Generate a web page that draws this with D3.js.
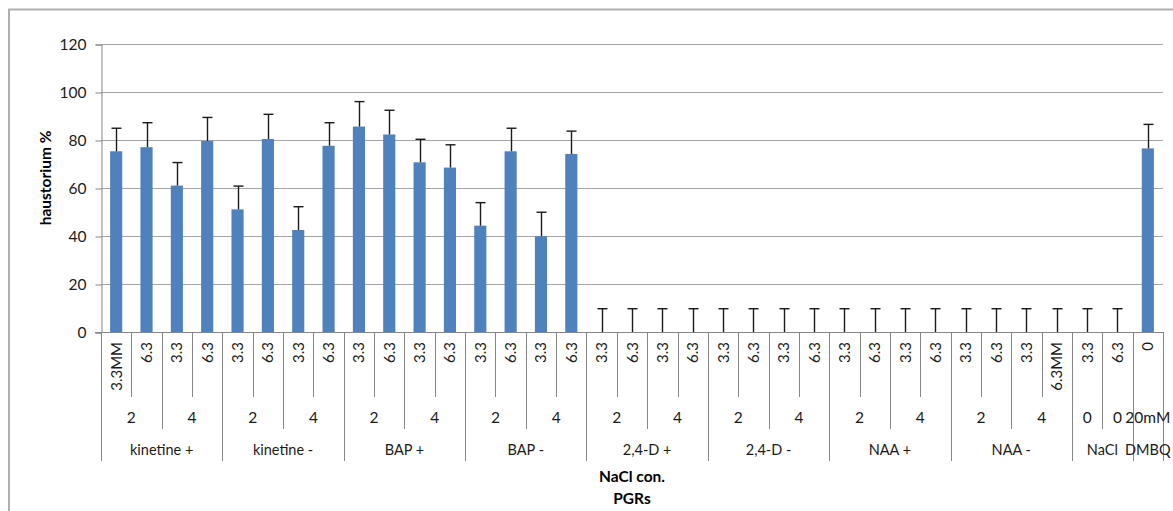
<!DOCTYPE html>
<html>
<head>
<meta charset="utf-8">
<script src="https://cdn.jsdelivr.net/npm/d3@7"></script>
<style>
  html, body { margin: 0; padding: 0; background: #fff; }
  svg { display: block; font-family: Lato, "Open Sans", sans-serif; }
</style>
</head>
<body>
<svg id="chart" width="1173" height="511"></svg>
<script>
// NaCl concentration label for each bar (innermost axis level)
const naclLabels = [
  "3.3MM", "6.3", "3.3", "6.3",  "3.3", "6.3", "3.3", "6.3",
  "3.3", "6.3", "3.3", "6.3",    "3.3", "6.3", "3.3", "6.3",
  "3.3", "6.3", "3.3", "6.3",    "3.3", "6.3", "3.3", "6.3",
  "3.3", "6.3", "3.3", "6.3",    "3.3", "6.3", "3.3", "6.3MM",
  "3.3", "6.3", "0"
];
// Hormone dose level (middle axis level) and how many bars each spans
const doseLabels = ["2", "4", "2", "4", "2", "4", "2", "4", "2", "4", "2", "4", "2", "4", "2", "4", "0", "0", "20mM"];
const doseSpans  = [2, 2, 2, 2, 2, 2, 2, 2, 2, 2, 2, 2, 2, 2, 2, 2, 1, 1, 1];
// PGR treatment (outer axis level) and its span in bars
const pgrLabels = ["kinetine +", "kinetine -", "BAP +", "BAP -", "2,4-D +", "2,4-D -", "NAA +", "NAA -", "NaCl", "DMBQ"];
const pgrSpans  = [4, 4, 4, 4, 4, 4, 4, 4, 2, 1];

// Haustorium formation (%) and error for each bar
const haustorium = [
  75.3, 77.0, 61.0, 79.6,  51.1, 80.4, 42.5, 77.6,
  85.6, 82.3, 70.7, 68.5,  44.3, 75.3, 39.9, 74.2,
  0, 0, 0, 0,  0, 0, 0, 0,  0, 0, 0, 0,  0, 0, 0, 0,
  0, 0, 76.5
];
const errors = [
  9.6, 10.2, 9.6, 9.8,  9.7, 10.3, 9.7, 9.6,
  10.4, 10.1, 9.6, 9.5,  9.6, 9.6, 10.0, 9.5,
  9.7, 9.7, 9.7, 9.7,  9.7, 9.7, 9.7, 9.7,  9.7, 9.7, 9.7, 9.7,  9.7, 9.7, 9.7, 9.7,
  9.7, 9.7, 10.0
];
const yTicks = [0, 20, 40, 60, 80, 100, 120];

const svg = d3.select("#chart");
const plotLeft = 101, plotRight = 1163, plotTop = 44, plotBottom = 332;
const gridColor = "#a6a6a6", axisColor = "#868686", barColor = "#4f81bd";
const labelColor = "#1a1a1a";

// chart frame
svg.append("path")
  .attr("d", "M9,600 V9.5 H1200")
  .attr("fill", "none").attr("stroke", "#b0b0b0").attr("stroke-width", 2);

const idx = d3.range(naclLabels.length);
const x = d3.scaleBand().domain(idx).range([plotLeft, plotRight]).paddingInner(0.6).paddingOuter(0.3);
const y = d3.scaleLinear().domain([0, 120]).range([plotBottom, plotTop]);
const step = x.step();
const edge = i => plotLeft + i * step; // left boundary of slot i

// gridlines
svg.append("g").selectAll("line").data(yTicks.filter(t => t > 0)).join("line")
  .attr("x1", plotLeft).attr("x2", plotRight)
  .attr("y1", d => Math.round(y(d)) + 0.5).attr("y2", d => Math.round(y(d)) + 0.5)
  .attr("stroke", gridColor).attr("stroke-width", 1);

// y axis
const yAxis = d3.axisLeft(y).tickValues(yTicks).tickSize(6).tickPadding(9);
const gy = svg.append("g").attr("transform", `translate(${plotLeft + 0.5},0.5)`).call(yAxis);
gy.select(".domain").attr("stroke", axisColor);
gy.selectAll(".tick line").attr("stroke", axisColor);
gy.selectAll(".tick text").attr("font-size", 15.5).attr("fill", labelColor).attr("font-family", "Lato, sans-serif");

svg.append("text")
  .attr("transform", `translate(51,${(plotTop + plotBottom) / 2 - 10}) rotate(-90)`)
  .attr("text-anchor", "middle").attr("font-size", 15.5).attr("font-weight", "bold").attr("fill", "#000")
  .text("haustorium %");

// bars
svg.append("g").selectAll("rect").data(idx).join("rect")
  .attr("x", i => x(i)).attr("width", x.bandwidth())
  .attr("y", i => y(haustorium[i])).attr("height", i => y(0) - y(haustorium[i]))
  .attr("fill", barColor);

// error bars (upper half)
const eb = svg.append("g").attr("stroke", "#1a1a1a").attr("stroke-width", 1.4);
idx.forEach(i => {
  const cx = Math.round(x(i) + x.bandwidth() / 2) + 0.5;
  const yt = y(haustorium[i] + errors[i]);
  eb.append("line").attr("x1", cx).attr("x2", cx).attr("y1", y(haustorium[i])).attr("y2", yt);
  eb.append("line").attr("x1", cx - 5).attr("x2", cx + 5).attr("y1", yt).attr("y2", yt);
});

// x axis baseline
svg.append("line").attr("x1", plotLeft - 6).attr("x2", plotRight)
  .attr("y1", plotBottom + 0.5).attr("y2", plotBottom + 0.5)
  .attr("stroke", axisColor);

// multi-level category axis
const lvl1Bottom = 397, lvl2Bottom = 429, lvl3Bottom = 461;
const doseEdges = d3.cumsum(doseSpans);
const pgrEdges = d3.cumsum(pgrSpans);
const sep = svg.append("g").attr("stroke", axisColor).attr("stroke-width", 1);
d3.range(naclLabels.length + 1).forEach(k => {
  let yEnd = lvl1Bottom;
  if (k === 0 || pgrEdges.includes(k)) yEnd = lvl3Bottom;
  else if (doseEdges.includes(k)) yEnd = lvl2Bottom;
  const xx = Math.round(edge(k)) + 0.5;
  sep.append("line").attr("x1", xx).attr("x2", xx).attr("y1", plotBottom).attr("y2", yEnd);
});

// innermost labels, rotated to read upward
svg.append("g").selectAll("text").data(idx).join("text")
  .attr("transform", i => `translate(${x(i) + x.bandwidth() / 2 + 5.5},${plotBottom + 10}) rotate(-90)`)
  .attr("text-anchor", "end").attr("font-size", 15).attr("fill", labelColor)
  .text(i => naclLabels[i]);

// dose labels
let start = 0;
const g2 = svg.append("g");
doseLabels.forEach((lab, j) => {
  const cx = (edge(start) + edge(start + doseSpans[j])) / 2;
  g2.append("text").attr("x", cx).attr("y", 423).attr("text-anchor", "middle")
    .attr("font-size", 15.5).attr("fill", labelColor).text(lab);
  start += doseSpans[j];
});

// PGR labels
start = 0;
const g3 = svg.append("g");
pgrLabels.forEach((lab, j) => {
  const cx = (edge(start) + edge(start + pgrSpans[j])) / 2;
  g3.append("text").attr("x", cx).attr("y", 455).attr("text-anchor", "middle")
    .attr("font-size", 14.5).attr("fill", labelColor).text(lab);
  start += pgrSpans[j];
});

// axis titles
svg.append("text").attr("x", (plotLeft + plotRight) / 2).attr("y", 482).attr("text-anchor", "middle")
  .attr("font-size", 15.5).attr("font-weight", "bold").attr("fill", "#000").text("NaCl con.");
svg.append("text").attr("x", (plotLeft + plotRight) / 2).attr("y", 504).attr("text-anchor", "middle")
  .attr("font-size", 15.5).attr("font-weight", "bold").attr("fill", "#000").text("PGRs");
</script>
</body>
</html>
